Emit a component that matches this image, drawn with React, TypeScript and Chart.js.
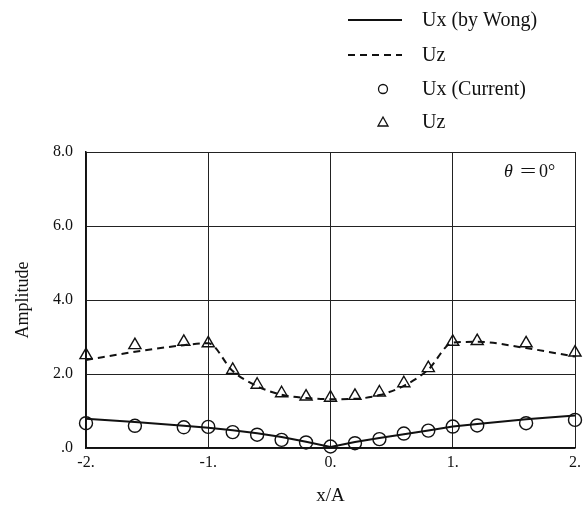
import React, { useEffect, useRef } from "react";
import { Chart, registerables } from "chart.js";

Chart.register(...registerables);

// Positions along the span, x/A
const xPositions = [-2, -1.6, -1.2, -1, -0.8, -0.6, -0.4, -0.2, 0, 0.2, 0.4, 0.6, 0.8, 1, 1.2, 1.6, 2];

// Reference solution (Wong)
const uxWong = [0.79, 0.70, 0.60, 0.55, 0.48, 0.40, 0.30, 0.17, 0.03, 0.16, 0.27, 0.37, 0.47, 0.58, 0.65, 0.78, 0.88];
const uzWong = [2.38, 2.60, 2.78, 2.83, 2.08, 1.67, 1.44, 1.35, 1.32, 1.33, 1.43, 1.68, 2.12, 2.85, 2.87, 2.70, 2.47];

// Current computation
const uxCurrent = [0.67, 0.60, 0.56, 0.57, 0.43, 0.36, 0.22, 0.15, 0.04, 0.13, 0.24, 0.39, 0.47, 0.58, 0.61, 0.67, 0.76];
const uzCurrent = [2.51, 2.78, 2.87, 2.83, 2.11, 1.71, 1.48, 1.39, 1.36, 1.41, 1.50, 1.75, 2.16, 2.87, 2.89, 2.83, 2.58];

const seriesLabels = ["Ux (by Wong)", "Uz", "Ux (Current)", "Uz"];
const xTickLabels = ["-2.", "-1.", "0.", "1.", "2."];
const yTickLabels = [".0", "2.0", "4.0", "6.0", "8.0"];
const angleLabel = "0°";

const FONT = "'Liberation Serif', 'DejaVu Serif', serif";

const toPoints = (ys: number[]) => xPositions.map((x, i) => ({ x, y: ys[i] }));

// Vertical legend in the upper right and the angle note inside the plot
const annotations = {
  id: "annotations",
  afterDraw(chart: any) {
    const { ctx, chartArea } = chart;
    ctx.save();
    ctx.fillStyle = "#111";
    ctx.strokeStyle = "#111";
    ctx.font = `20px ${FONT}`;
    ctx.textBaseline = "middle";
    ctx.textAlign = "left";
    const rows = [20, 55, 89, 122];
    const sx0 = 348, sx1 = 402, mx = 383, tx = 422;
    chart.data.datasets.forEach((ds: any, i: number) => {
      const y = rows[i];
      if (ds.showLine !== false) {
        ctx.lineWidth = ds.borderWidth;
        ctx.setLineDash(ds.borderDash || []);
        ctx.beginPath();
        ctx.moveTo(sx0, y);
        ctx.lineTo(sx1, y);
        ctx.stroke();
        ctx.setLineDash([]);
      } else {
        ctx.lineWidth = 1.3;
        ctx.beginPath();
        if (ds.pointStyle === "triangle") {
          const r = 5;
          ctx.moveTo(mx, y - r);
          ctx.lineTo(mx + r, y + r * 0.8);
          ctx.lineTo(mx - r, y + r * 0.8);
          ctx.closePath();
        } else {
          ctx.arc(mx, y, 4.5, 0, Math.PI * 2);
        }
        ctx.stroke();
      }
      ctx.fillText(ds.label, tx, y + 1);
    });

    // θ = 0°
    const ty = chartArea.top + 20;
    ctx.font = `italic 18px ${FONT}`;
    ctx.fillText("θ", 504, ty);
    ctx.font = `18px ${FONT}`;
    ctx.save();
    ctx.translate(520, ty);
    ctx.scale(1.6, 1);
    ctx.fillText("=", 0, 0);
    ctx.restore();
    ctx.fillText(angleLabel, 539, ty);
    ctx.restore();
  },
};

export default function App() {
  const canvasRef = useRef<HTMLCanvasElement | null>(null);

  useEffect(() => {
    if (!canvasRef.current) return;
    const chart = new Chart(canvasRef.current, {
      type: "line",
      data: {
        datasets: [
          {
            label: seriesLabels[0],
            data: toPoints(uxWong),
            borderColor: "#111",
            borderWidth: 2,
            pointRadius: 0,
            tension: 0,
            fill: false,
          },
          {
            label: seriesLabels[1],
            data: toPoints(uzWong),
            borderColor: "#111",
            borderWidth: 2,
            borderDash: [7, 5],
            pointRadius: 0,
            cubicInterpolationMode: "monotone",
            fill: false,
          },
          {
            label: seriesLabels[2],
            data: toPoints(uxCurrent),
            showLine: false,
            pointStyle: "circle",
            pointRadius: 6.5,
            pointBorderWidth: 1.4,
            pointBorderColor: "#111",
            pointBackgroundColor: "rgba(0,0,0,0)",
            clip: false,
          },
          {
            label: seriesLabels[3],
            data: toPoints(uzCurrent),
            showLine: false,
            pointStyle: "triangle",
            pointRadius: 7,
            pointBorderWidth: 1.4,
            pointBorderColor: "#111",
            pointBackgroundColor: "rgba(0,0,0,0)",
            clip: false,
          },
        ],
      } as any,
      options: {
        animation: false,
        responsive: false,
        maintainAspectRatio: false,
        layout: { padding: { top: 152, right: 10, left: 0, bottom: 0 } },
        plugins: {
          legend: { display: false },
          tooltip: { enabled: false },
        },
        scales: {
          x: {
            type: "linear",
            min: -2,
            max: 2,
            afterFit: (s: any) => {
              s.height = 62;
            },
            afterBuildTicks: (s: any) => {
              s.ticks = xTickLabels.map((_, i) => ({ value: -2 + i }));
            },
            ticks: {
              padding: 5,
              color: "#111",
              font: { family: FONT, size: 16 },
              maxRotation: 0,
              callback: (_v: any, i: number) => xTickLabels[i],
            },
            grid: { color: "#222", lineWidth: 1, drawTicks: false },
            border: { color: "#111", width: 1.5 },
            title: {
              display: true,
              text: "x/A",
              color: "#111",
              font: { family: FONT, size: 19 },
              padding: { top: 0, bottom: 3 },
            },
          },
          y: {
            type: "linear",
            min: 0,
            max: 8,
            afterFit: (s: any) => {
              s.width = 86;
            },
            afterBuildTicks: (s: any) => {
              s.ticks = yTickLabels.map((_, i) => ({ value: i * 2 }));
            },
            ticks: {
              padding: 13,
              color: "#111",
              font: { family: FONT, size: 16 },
              callback: (_v: any, i: number) => yTickLabels[i],
            },
            grid: { color: "#222", lineWidth: 1, drawTicks: false },
            border: { color: "#111", width: 1.5 },
            title: {
              display: true,
              text: "Amplitude",
              color: "#111",
              font: { family: FONT, size: 18 },
              padding: { top: 12, bottom: 0 },
            },
          },
        },
      } as any,
      plugins: [annotations],
    });
    return () => chart.destroy();
  }, []);

  return (
    <div style={{ position: "fixed", left: 0, top: 0, width: 586, height: 510, background: "#fff" }}>
      <canvas ref={canvasRef} width={586} height={510} style={{ display: "block" }} />
    </div>
  );
}
